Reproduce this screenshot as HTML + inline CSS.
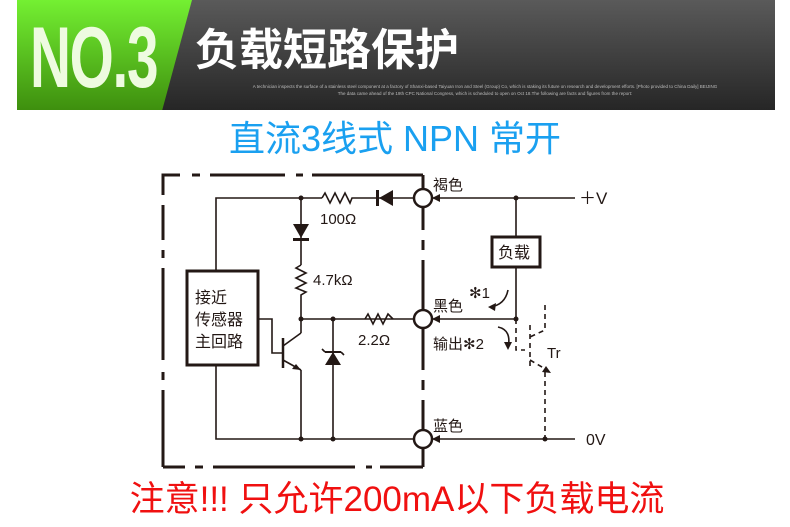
<!DOCTYPE html>
<html><head><meta charset="utf-8"><style>
body{margin:0;width:790px;height:527px;background:#fff;overflow:hidden;position:relative;font-family:"Liberation Sans","Noto Sans CJK SC",sans-serif}
.hdr{position:absolute;left:17px;top:0;width:758px;height:110px;background:linear-gradient(#5a5a5a,#262626)}
.grn{position:absolute;left:17px;top:0;width:175px;height:110px;background:linear-gradient(#74f032,#3e8f0e);clip-path:polygon(0 0,100% 0,83% 100%,0 100%)}
.no{position:absolute;left:30px;top:8px;font:bold 86px/100px "Liberation Sans Narrow","Liberation Sans",sans-serif;color:#eefbe0;transform:scaleX(0.66);transform-origin:left;letter-spacing:-2px}
.t1{position:absolute;left:195px;top:20px;font:bold 44px/52px "Noto Sans CJK SC",sans-serif;color:#fff}
.sm{position:absolute;left:195px;top:83px;width:580px;text-align:center;font:4.5px/7px "Liberation Sans",sans-serif;color:#bbb}
.blue{position:absolute;left:0;width:790px;top:118px;text-align:center;color:#1aa0f0;font-size:36px;line-height:42px}
.red{position:absolute;left:0;width:790px;top:479px;text-align:center;color:#f01010;font-size:35px;line-height:42px;padding-left:2px}
</style></head><body>
<div class="hdr"></div><div class="grn"></div>
<div class="no">NO.3</div>
<div class="t1">负载短路保护</div>
<div class="sm">A technician inspects the surface of a stainless steel component at a factory of Shanxi-based Taiyuan Iron and Steel (Group) Co, which is staking its future on research and development efforts. [Photo provided to China Daily] BEIJING<br>The data came ahead of the 19th CPC National Congress, which is scheduled to open on Oct 18.The following are facts and figures from the report:</div>
<div class="blue">直流3线式 NPN 常开</div>
<svg width="790" height="527" style="position:absolute;left:0;top:0" font-family="Liberation Sans,Noto Sans CJK SC,sans-serif" fill="none" stroke="#231815">
<g stroke-width="3">
<polyline points="163,195 163,175 180,175"/><line x1="192" y1="175" x2="200" y2="175"/><line x1="210" y1="175" x2="285" y2="175"/><line x1="296" y1="175" x2="303" y2="175"/><line x1="312" y1="175" x2="423" y2="175"/><line x1="423" y1="175" x2="423" y2="189"/>
<line x1="163" y1="205" x2="163" y2="240"/><line x1="163" y1="250" x2="163" y2="258"/><line x1="163" y1="268" x2="163" y2="360"/><line x1="163" y1="372" x2="163" y2="380"/><line x1="163" y1="390" x2="163" y2="467"/>
<line x1="163" y1="467" x2="185" y2="467"/><line x1="195" y1="467" x2="203" y2="467"/><line x1="213" y1="467" x2="355" y2="467"/><line x1="366" y1="467" x2="372" y2="467"/><line x1="380" y1="467" x2="423" y2="467"/><line x1="423" y1="467" x2="423" y2="448"/>
<line x1="423" y1="207" x2="423" y2="230"/><line x1="423" y1="240" x2="423" y2="250"/><line x1="423" y1="260" x2="423" y2="310"/>
<line x1="423" y1="328" x2="423" y2="370"/><line x1="423" y1="380" x2="423" y2="390"/><line x1="423" y1="400" x2="423" y2="430"/>
</g>
<g stroke-width="1.6">
<polyline points="216,271 216,198 322,198"/><polyline points="322,198 325,193 330,203 335,193 340,203 345,193 350,203 352,198 414,198"/>
<line x1="301" y1="198" x2="301" y2="265"/><polyline points="301,265 296,268 306,273 296,278 306,283 296,288 306,292 301,295 301,333"/>
<line x1="301" y1="319" x2="414" y2="319"/>
<polyline points="365,319 368,314 373,324 378,314 383,324 388,314 393,319"/>
<polyline points="258,319 272,319 272,353 283,353"/>
<line x1="283" y1="338" x2="283" y2="368" stroke-width="2.5"/>
<line x1="283" y1="346" x2="301" y2="333"/><line x1="283" y1="360" x2="301" y2="370"/>
<polyline points="216,365 216,439 414,439"/><line x1="301" y1="370" x2="301" y2="439"/>
<line x1="333" y1="319" x2="333" y2="439"/>
<line x1="432" y1="198" x2="575" y2="198"/><line x1="432" y1="319" x2="516" y2="319"/><line x1="432" y1="439" x2="575" y2="439"/>
<line x1="516" y1="198" x2="516" y2="237"/><line x1="516" y1="267" x2="516" y2="319"/>
<line x1="325" y1="352" x2="341" y2="352" stroke-width="2"/><line x1="325" y1="352" x2="322" y2="349"/><line x1="341" y1="352" x2="344" y2="355"/>
<g stroke-dasharray="5,4">
<polyline points="516,319 516,350 525,350"/><polyline points="545,305 545,330 530,337"/><line x1="530" y1="325" x2="530" y2="370"/>
<line x1="530" y1="360" x2="547" y2="370"/><line x1="545" y1="372" x2="545" y2="439"/>
</g>
<path d="M508,290 Q505,305 490,307"/><path d="M498,327 Q512,330 508,348"/>
</g>
<rect x="187" y="271" width="71" height="94" stroke-width="3" fill="#fff"/>
<rect x="492" y="237" width="48" height="30" stroke-width="3" fill="#fff"/>
<g stroke-width="2.5" fill="#fff"><circle cx="423" cy="198" r="9"/><circle cx="423" cy="319" r="9"/><circle cx="423" cy="439" r="9"/></g>
<g fill="#231815" stroke="none">
<polygon points="393,190 393,206 379,198"/><rect x="376" y="190" width="3" height="16"/>
<polygon points="293,224 309,224 301,238"/><rect x="293" y="238" width="16" height="3"/>
<polygon points="333,352 341,365 325,365"/>
<polygon points="301,370 292,369 296,364"/><polygon points="551,373 542,372 546,366"/>
<polygon points="432,198 440,194 440,202"/><polygon points="432,319 440,315 440,323"/><polygon points="432,439 440,435 440,443"/>
<polygon points="488,307 496,303 495,311"/><polygon points="508,350 504,342 512,342"/>
<circle cx="301" cy="198" r="2.5"/><circle cx="301" cy="319" r="2.5"/><circle cx="333" cy="319" r="2.5"/><circle cx="301" cy="439" r="2.5"/><circle cx="333" cy="439" r="2.5"/><circle cx="516" cy="198" r="2.5"/><circle cx="516" cy="319" r="2.5"/><circle cx="545" cy="439" r="2.5"/>
<g font-size="15">
<text x="320" y="224">100Ω</text><text x="313" y="285">4.7kΩ</text><text x="358" y="345">2.2Ω</text>
<text x="433" y="190">褐色</text><text x="433" y="311">黑色</text><text x="433" y="349">输出✻2</text><text x="433" y="431">蓝色</text>
<text x="469" y="298">✻1</text><text x="547" y="358">Tr</text>
<text x="579" y="204" font-size="17">＋V</text><text x="586" y="445" font-size="16">0V</text>
<text x="498" y="258" font-size="16">负载</text>
<text x="195" y="303" font-size="16">接近</text><text x="195" y="325" font-size="16">传感器</text><text x="195" y="347" font-size="16">主回路</text>
</g></g>
</svg>
<div class="red">注意!!! 只允许200mA以下负载电流</div>
</body></html>
